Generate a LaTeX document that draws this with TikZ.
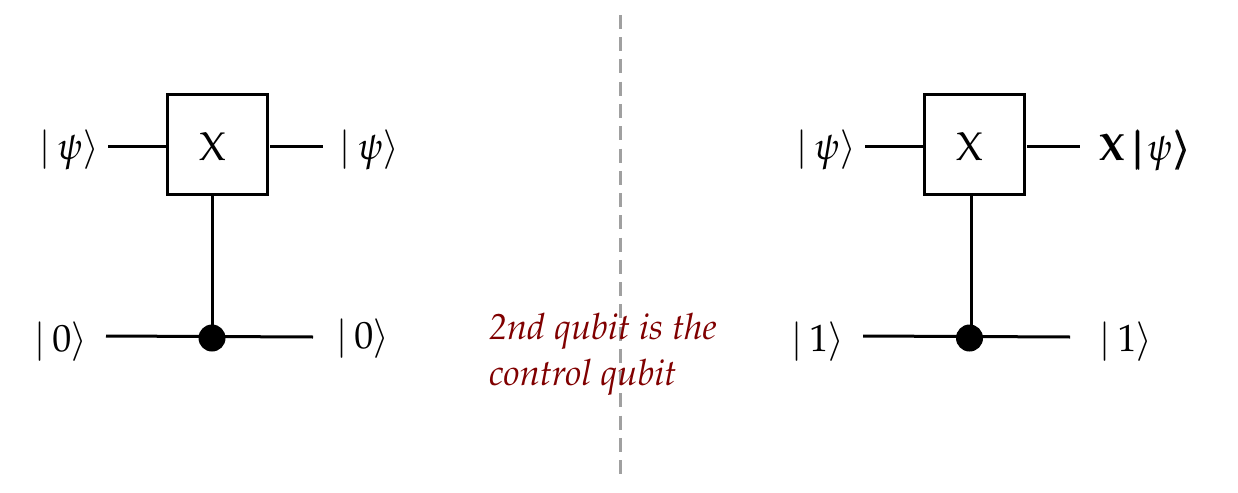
\documentclass[tikz,border=0pt]{standalone}
\usepackage[T1]{fontenc}
\usepackage{amsmath}
\usepackage[sc]{mathpazo}
\usepackage{bm}
\renewcommand{\rmdefault}{ppl}
\definecolor{darkred}{RGB}{128,0,0}
\definecolor{divgray}{RGB}{160,160,160}
\newcommand{\ketof}[1]{$\lvert\,#1\rangle$}
\tikzset{
  every node/.style={inner sep=0pt,outer sep=0pt},
  wire/.style={draw=black,line width=3pt},
  gatebox/.style={draw=black,line width=3pt,minimum width=100pt,minimum height=99pt},
  gatetext/.style={font=\fontsize{40}{44}\selectfont,anchor=center},
  ctrl/.style={circle,fill=black,minimum size=27pt},
  ketlabel/.style={font=\fontsize{38}{42}\selectfont,anchor=center},
  divider/.style={draw=divgray,line width=3pt,dash pattern=on 14pt off 8.25pt},
  remark/.style={font=\fontsize{36.2}{46.5}\selectfont\itshape,text=darkred,align=left,anchor=north west}
}
\begin{document}
\begin{tikzpicture}[x=1pt,y=-1pt]
\useasboundingbox (0,0) rectangle (1238,492);
\coordinate (dtop) at (620,15);
\coordinate (dbot) at (620,474);
\draw[divider] (dtop) -- (dbot);
% left circuit
\node[gatebox] (g1) at (217,144.5) {};
\node[gatetext] (x1) at (213,147) {X};
\node[ctrl] (c1) at (212,338) {};
\node[ketlabel] (k1a) at (69,150) {\ketof{\psi}};
\node[ketlabel] (k1b) at (369.5,150) {\ketof{\psi}};
\node[ketlabel] (k1c) at (61,341) {\ketof{0}};
\node[ketlabel] (k1d) at (363,338) {\ketof{0}};
\coordinate (w1a) at (108,146);
\coordinate (w1ae) at (169,146);
\coordinate (w1b) at (270,146);
\coordinate (w1be) at (323,146);
\coordinate (w1c) at (106,336);
\coordinate (w1d) at (313,337);
\coordinate (v1) at (212,194);
\draw[wire] (w1a) -- (w1ae);
\draw[wire] (w1b) -- (w1be);
\draw[wire] (w1c) -- (w1d);
\draw[wire] (v1) -- (c1.center);
% right circuit
\node[gatebox] (g2) at (974,144.5) {};
\node[gatetext] (x2) at (970,147) {X};
\node[ctrl] (c2) at (969.5,338) {};
\node[ketlabel] (k2a) at (826,150) {\ketof{\psi}};
\node[ketlabel,anchor=west] (k2b) at (1099,150) {$\mathbf{X}\mkern4mu\pmb{\lvert}\mkern1mu\psi\mkern1mu\pmb{\rangle}$};
\node[ketlabel] (k2c) at (818,341) {\ketof{1}};
\node[ketlabel] (k2d) at (1126,341) {\ketof{1}};
\coordinate (w2a) at (865,146);
\coordinate (w2ae) at (926,146);
\coordinate (w2b) at (1027,146);
\coordinate (w2be) at (1080,146);
\coordinate (w2c) at (863,336);
\coordinate (w2d) at (1070,337);
\coordinate (v2) at (971,194);
\draw[wire] (w2a) -- (w2ae);
\draw[wire] (w2b) -- (w2be);
\draw[wire] (w2c) -- (w2d);
\draw[wire] (v2) -- (v2 |- c2.center);
% remark
\node[remark] (note) at (489,313) {2nd qubit is the\\control qubit};
\end{tikzpicture}
\end{document}
